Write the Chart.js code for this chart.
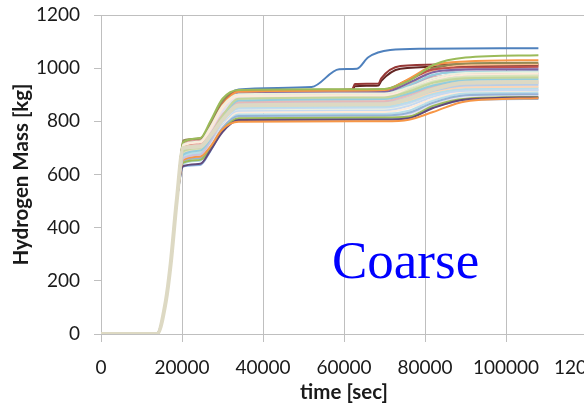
<!DOCTYPE html>
<html>
<head>
<meta charset="utf-8">
<script src="https://cdn.jsdelivr.net/npm/chart.js@4.4.0/dist/chart.umd.min.js"></script>
<style>
  html, body { margin: 0; padding: 0; background: #fff; overflow: hidden; }
  #wrap { width: 700px; height: 407px; }
</style>
</head>
<body>
<div id="wrap"><canvas id="chart_h2"></canvas></div>
<script>
// time points shared by most runs [sec]
const TIME = [0, 13800, 16000, 17200, 18700, 20300, 24500, 27000, 30000, 34000, 70000, 76000, 82000, 90000, 108000];

// hydrogen mass [kg] per run, upper part of the band
const runsTop = [
  [0, 0, 122, 260, 498, 722, 737, 800, 885, 918, 922, 952, 1012, 1040, 1049],
  [0, 0, 124, 264, 502, 700, 712, 770, 860, 912, 918, 960, 1010, 1025, 1030],
  [0, 0, 122, 262, 500, 690, 705, 760, 850, 905, 910, 945, 985, 995, 995],
  [0, 0, 123, 262, 500, 705, 718, 775, 862, 915, 918, 955, 995, 1003, 1005],
  [0, 0, 124, 264, 502, 680, 695, 750, 845, 900, 905, 935, 975, 985, 988],
  [0, 0, 121, 259, 497, 728, 735, 790, 875, 916, 920, 958, 1000, 1018, 1020],
  [0, 0, 125, 266, 504, 695, 708, 765, 855, 908, 912, 940, 990, 1012, 1015],
  [0, 0, 124, 262, 500, 672, 690, 745, 838, 895, 900, 930, 972, 995, 1000],
  [0, 0, 122, 260, 498, 715, 730, 782, 868, 910, 915, 938, 965, 978, 980],
  [0, 0, 123, 263, 501, 665, 680, 735, 830, 890, 896, 925, 960, 970, 972]
];
const colorsTop = ['#9BBB59', '#F79646', '#8064A2', '#C0504D', '#93CDDD', '#948A54', '#FAC090', '#B3A2C7', '#D99694', '#95B3D7'];

// middle of the band
const runsMid = [
  [0, 0, 122, 260, 498, 688, 700, 745, 820, 885, 890, 912, 945, 962, 965],
  [0, 0, 124, 264, 503, 675, 690, 735, 815, 878, 884, 905, 935, 955, 958],
  [0, 0, 123, 263, 502, 700, 712, 752, 825, 872, 876, 900, 930, 948, 950],
  [0, 0, 121, 258, 497, 660, 675, 725, 805, 868, 872, 892, 925, 942, 945],
  [0, 0, 125, 266, 505, 692, 705, 742, 812, 862, 866, 885, 915, 935, 938],
  [0, 0, 124, 264, 503, 678, 690, 732, 808, 858, 862, 880, 910, 928, 930],
  [0, 0, 122, 260, 499, 685, 698, 738, 815, 880, 884, 918, 950, 968, 972],
  [0, 0, 124, 264, 503, 670, 682, 728, 800, 852, 856, 874, 905, 922, 925],
  [0, 0, 123, 262, 500, 695, 708, 750, 822, 875, 878, 896, 920, 932, 935],
  [0, 0, 122, 261, 499, 682, 694, 735, 812, 866, 870, 890, 918, 940, 942],
  [0, 0, 124, 264, 503, 668, 680, 722, 798, 848, 852, 868, 900, 915, 918],
  [0, 0, 123, 262, 501, 708, 720, 770, 850, 895, 898, 920, 955, 975, 978],
  [0, 0, 122, 260, 499, 690, 702, 758, 840, 890, 893, 915, 948, 970, 975],
  [0, 0, 124, 263, 502, 676, 688, 740, 828, 884, 887, 902, 930, 950, 952],
  [0, 0, 123, 262, 500, 712, 724, 778, 858, 902, 905, 928, 962, 982, 985],
  [0, 0, 122, 261, 499, 698, 710, 762, 845, 897, 900, 922, 952, 965, 968],
  [0, 0, 124, 264, 503, 684, 696, 745, 832, 888, 891, 908, 938, 958, 960]
];
const colorsMid = ['#C3D69B', '#93CDDD', '#E6B9B8', '#CCC1DA', '#B9CDE5', '#FCD5B5', '#D7E4BD', '#B7DEE8', '#F2DCDB', '#D9D9D9', '#C6D9F1',
                   '#FDEADA', '#E5E0EC', '#DBEEF4', '#EBF1DE', '#FBD4B4', '#DDD9C3'];

// lower part of the band
const runsLow = [
  [0, 0, 121, 258, 496, 655, 668, 705, 770, 798, 800, 806, 835, 875, 887],
  [0, 0, 122, 260, 498, 632, 640, 690, 760, 805, 807, 812, 850, 882, 890],
  [0, 0, 122, 261, 499, 645, 655, 698, 768, 812, 814, 818, 858, 885, 892],
  [0, 0, 123, 262, 500, 650, 662, 702, 775, 820, 822, 832, 870, 898, 902],
  [0, 0, 124, 264, 503, 640, 652, 700, 772, 826, 828, 840, 878, 905, 908],
  [0, 0, 125, 266, 505, 658, 668, 708, 780, 832, 835, 850, 885, 910, 912],
  [0, 0, 124, 264, 503, 662, 672, 712, 785, 838, 840, 858, 892, 915, 918],
  [0, 0, 122, 260, 499, 648, 660, 704, 778, 842, 845, 862, 896, 920, 922],
  [0, 0, 123, 262, 500, 652, 665, 706, 782, 845, 848, 866, 900, 925, 928],
  [0, 0, 124, 265, 504, 644, 656, 700, 776, 815, 818, 826, 862, 893, 898],
  [0, 0, 121, 259, 497, 630, 636, 688, 765, 808, 810, 815, 852, 880, 884]
];
const colorsLow = ['#F79646', '#604A7B', '#9BBB59', '#95B3D7', '#B7DEE8', '#FDEADA', '#C6D9F1', '#EBF1DE', '#DBEEF4', '#E5E0EC', '#8EB4E3'];

// run drawn on top (light tan)
const runTan = [0, 0, 123, 263, 501, 700, 705, 745, 805, 860, 864, 885, 920, 945, 948];

// the outlier run that climbs first
const BLUE_TIME = [0, 13800, 16000, 17200, 18700, 20300, 24500, 27000, 30000, 34000, 52000, 58800, 63200, 66000, 71400, 80000, 108000];
const BLUE_MASS = [0, 0, 123, 263, 501, 710, 725, 780, 870, 920, 929, 996, 998, 1041, 1068, 1073, 1075];

// two brown runs with the step near 63000 s
const BROWN_TIME = [0, 13800, 16000, 17200, 18700, 20300, 24500, 27000, 30000, 34000, 62000, 62700, 68500, 69200, 73900, 84500, 108000];
const BROWN_A = [0, 0, 122, 262, 500, 718, 735, 790, 875, 915, 920, 940, 942, 962, 1008, 1014, 1015];
const BROWN_B = [0, 0, 122, 261, 499, 712, 728, 782, 868, 912, 916, 932, 935, 952, 998, 1006, 1010];

const X_TICKS = [0, 20000, 40000, 60000, 80000, 100000, 120000];
const Y_TICKS = [0, 200, 400, 600, 800, 1000, 1200];

function toPoints(xs, ys) {
    return xs.map((x, i) => ({x: x, y: ys[i]}));
}

function line(data, color, width) {
    return {
        data: data,
        borderColor: color,
        backgroundColor: color,
        borderWidth: width || 2,
        pointRadius: 0,
        fill: false,
        cubicInterpolationMode: 'monotone'
    };
}

// lower index = drawn on top, so pastel runs go first
const datasets = [line(toPoints(TIME, runTan), '#DDD9C3', 4)];
runsMid.forEach((r, i) => datasets.push(line(toPoints(TIME, r), colorsMid[i])));
runsLow.forEach((r, i) => datasets.push(line(toPoints(TIME, r), colorsLow[i])));
runsTop.forEach((r, i) => datasets.push(line(toPoints(TIME, r), colorsTop[i])));
datasets.push(line(toPoints(BLUE_TIME, BLUE_MASS), '#4F81BD'));
datasets.push(line(toPoints(BROWN_TIME, BROWN_A), '#953735'));
datasets.push(line(toPoints(BROWN_TIME, BROWN_B), '#632523'));

const coarseLabel = {
    id: 'coarseLabel',
    afterDatasetsDraw(chart) {
        const c = chart.ctx;
        c.save();
        c.font = '53px "Liberation Serif"';
        c.fillStyle = '#0000FF';
        c.textAlign = 'left';
        c.textBaseline = 'alphabetic';
        c.fillText('Coarse', 332, 278);
        c.restore();
    }
};

const gridGray = '#BFBFBF';
const ctx = document.querySelector('#chart_h2').getContext('2d');
const chart = new Chart(ctx, {
    type: 'line',
    data: { datasets: datasets },
    plugins: [coarseLabel],
    options: {
        responsive: true,
        maintainAspectRatio: false,
        animation: false,
        layout: { padding: { top: 15, right: 113, left: 0, bottom: 0 } },
        scales: {
            x: {
                type: 'linear',
                min: 0,
                max: 120000,
                afterBuildTicks: s => { s.ticks = X_TICKS.map(v => ({value: v})); },
                afterFit: s => { s.height = 73; s.paddingLeft = 0; s.paddingRight = 0; },
                ticks: {
                    callback: v => String(v),
                    color: '#1a1a1a',
                    font: { family: 'Lato', size: 19 },
                    padding: 14,
                    maxRotation: 0,
                    autoSkip: false
                },
                grid: { color: gridGray, tickLength: 8 },
                border: { color: gridGray },
                title: {
                    display: true,
                    text: 'time [sec]',
                    color: '#1a1a1a',
                    font: { family: 'Lato', size: 20.5, weight: 'bold' },
                    padding: { top: 0, bottom: 2 }
                }
            },
            y: {
                min: 0,
                max: 1200,
                afterBuildTicks: s => { s.ticks = Y_TICKS.map(v => ({value: v})); },
                afterFit: s => { s.width = 101; s.paddingTop = 0; s.paddingBottom = 0; },
                ticks: {
                    callback: v => String(v),
                    color: '#1a1a1a',
                    font: { family: 'Lato', size: 19 },
                    padding: 14
                },
                grid: {
                    color: c => (c.tick && c.tick.value === 1200) ? gridGray : 'rgba(0,0,0,0)',
                    tickColor: gridGray,
                    tickLength: 7
                },
                border: { color: gridGray },
                title: {
                    display: true,
                    text: 'Hydrogen Mass [kg]',
                    color: '#1a1a1a',
                    font: { family: 'Lato', size: 20.5, weight: 'bold' },
                    padding: { top: 9, bottom: 0 }
                }
            }
        },
        plugins: {
            legend: { display: false },
            tooltip: { enabled: false }
        }
    }
});
</script>
</body>
</html>
